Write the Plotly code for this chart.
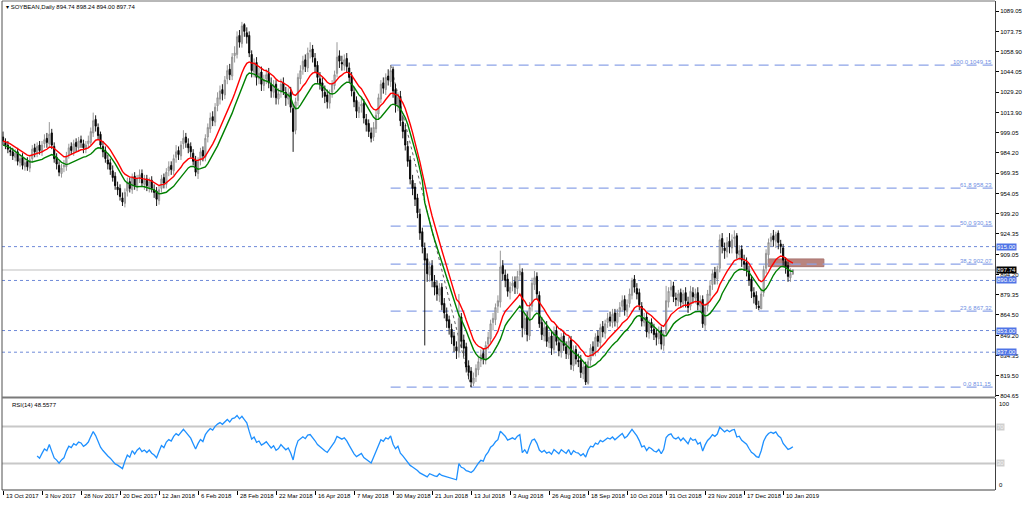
import plotly.graph_objects as go
import pandas as pd

# ---------------- data ----------------
open_ = [
    996, 992, 990, 986, 985, 981, 985, 977, 981, 974,
    978, 973, 980, 988, 984, 990, 985, 991, 995, 991,
    999, 989, 981, 975, 969, 974, 974, 983, 989, 985,
    992, 988, 994, 991, 987, 991, 992, 999, 1009, 1003,
    998, 989, 986, 979, 977, 971, 967, 959, 958, 951,
    947, 956, 963, 957, 967, 959, 966, 969, 961, 965,
    959, 964, 957, 956, 949, 958, 966, 961, 971, 975,
    971, 981, 986, 982, 991, 996, 991, 989, 984, 979,
    969, 979, 986, 981, 996, 1002, 1011, 1007, 1019, 1024,
    1031, 1027, 1039, 1046, 1041, 1056, 1057, 1071, 1065, 1079,
    1073, 1071, 1057, 1044, 1051, 1039, 1044, 1034, 1039, 1043,
    1035, 1029, 1035, 1024, 1029, 1036, 1029, 1024, 1029, 1017,
    1001, 1023, 1039, 1046, 1053, 1047, 1059, 1061, 1054, 1049,
    1039, 1036, 1029, 1027, 1021, 1029, 1034, 1043, 1056, 1051,
    1049, 1054, 1047, 1041, 1029, 1023, 1014, 1019, 1021, 1009,
    1006, 999, 996, 1002, 1013, 1024, 1036, 1031, 1041, 1037,
    1046, 1031, 1019, 1026, 1007, 1001, 989, 979, 964, 959,
    951, 939, 926, 914, 906, 894, 901, 889, 886, 879,
    885, 873, 865, 861, 854, 849, 841, 837, 863, 846,
    841, 827, 823, 814, 819, 824, 831, 836, 831, 843,
    847, 859, 861, 871, 874, 901, 894, 891, 881, 886,
    889, 884, 894, 896, 854, 863, 849, 871, 887, 893,
    879, 859, 849, 856, 844, 849, 839, 853, 844, 837,
    849, 841, 835, 846, 827, 839, 831, 831, 821, 827,
    814, 831, 841, 837, 849, 844, 856, 851, 859, 863,
    859, 866, 859, 867, 871, 876, 867, 873, 879, 891,
    884, 881, 871, 859, 863, 851, 859, 854, 851, 847,
    853, 842, 851, 874, 883, 886, 877, 875, 881, 873,
    881, 874, 871, 881, 877, 881, 871, 876, 857, 871,
    879, 887, 896, 891, 899, 921, 914, 911, 919, 914,
    921, 923, 909, 913, 904, 903, 897, 891, 881, 879,
    871, 869, 881, 899, 909, 919, 923, 919, 925, 917,
    914, 904, 901, 892, 894.74,
]
high = [
    1000, 995, 993, 989, 988, 987, 988, 983, 984, 980,
    981, 982, 990, 991, 992, 993, 993, 998, 999, 1007,
    1002, 992, 984, 978, 976, 979, 985, 991, 992, 994,
    995, 996, 997, 994, 993, 997, 1003, 1014, 1012, 1006,
    1000, 993, 989, 983, 980, 975, 970, 963, 961, 955,
    958, 966, 966, 969, 970, 968, 972, 972, 968, 968,
    966, 967, 961, 959, 960, 968, 969, 973, 978, 978,
    983, 990, 989, 993, 1001, 999, 995, 992, 987, 982,
    981, 988, 989, 998, 1006, 1014, 1015, 1021, 1029, 1034,
    1035, 1041, 1049, 1050, 1058, 1063, 1074, 1075, 1081, 1080,
    1077, 1074, 1060, 1054, 1055, 1047, 1048, 1042, 1046, 1047,
    1040, 1038, 1038, 1032, 1039, 1040, 1033, 1032, 1033, 1020,
    1025, 1043, 1049, 1056, 1057, 1062, 1066, 1064, 1058, 1052,
    1044, 1040, 1034, 1031, 1031, 1038, 1045, 1066, 1060, 1056,
    1057, 1058, 1051, 1044, 1033, 1026, 1022, 1025, 1024, 1013,
    1009, 1003, 1007, 1016, 1028, 1038, 1040, 1043, 1046, 1049.15,
    1048, 1035, 1029, 1030, 1012, 1005, 993, 982, 968, 962,
    954, 943, 929, 918, 910, 904, 905, 894, 890, 888,
    888, 877, 870, 864, 858, 852, 845, 880, 866, 850,
    844, 831, 826, 822, 828, 834, 839, 840, 845, 852,
    861, 866, 873, 879, 912, 905, 898, 895, 889, 893,
    893, 897, 902, 899, 866, 867, 874, 892, 897, 896,
    882, 863, 859, 860, 852, 853, 856, 857, 848, 851,
    853, 845, 848, 849, 842, 842, 836, 835, 829, 830,
    833, 843, 845, 851, 853, 858, 860, 861, 866, 867,
    869, 869, 869, 874, 879, 879, 876, 884, 892, 894,
    888, 884, 874, 866, 866, 861, 862, 858, 854, 856,
    856, 853, 886, 885, 890, 889, 881, 883, 884, 883,
    885, 878, 886, 885, 884, 885, 879, 879, 873, 883,
    890, 898, 900, 901, 924, 925, 918, 922, 925, 924,
    927, 925, 916, 916, 909, 907, 901, 894, 885, 882,
    875, 884, 901, 913, 921, 925, 927.3, 926, 927, 920,
    917, 907, 904, 899, 898.24,
]
low = [
    990, 987, 984, 982, 979, 978, 975, 974, 972, 971,
    971, 970, 977, 981, 981, 983, 982, 988, 988, 988,
    987, 977, 972, 967, 966, 970, 971, 980, 983, 982,
    985, 985, 988, 984, 984, 988, 990, 996, 1000, 994,
    987, 981, 977, 972, 968, 963, 957, 953, 949, 945,
    944, 952, 955, 954, 957, 956, 962, 959, 957, 956,
    955, 955, 951, 945, 946, 955, 958, 958, 967, 968,
    968, 977, 979, 979, 987, 988, 984, 981, 975, 967,
    965, 975, 978, 978, 992, 999, 1004, 1004, 1015, 1020,
    1023, 1024, 1035, 1038, 1038, 1051, 1054, 1062, 1062, 1070,
    1065, 1055, 1040, 1040, 1034, 1035, 1030, 1030, 1035, 1032,
    1025, 1025, 1020, 1020, 1025, 1027, 1019, 1020, 1014, 985,
    998, 1019, 1035, 1042, 1044, 1044, 1054, 1051, 1044, 1036,
    1031, 1025, 1021, 1017, 1017, 1025, 1031, 1040, 1047, 1045,
    1045, 1044, 1036, 1026, 1018, 1010, 1010, 1014, 1006, 1000,
    996, 992, 993, 999, 1009, 1021, 1028, 1027, 1034, 1033,
    1025, 1014, 1015, 1004, 995, 986, 974, 961, 953, 945,
    936, 920, 910, 842, 889, 889, 885, 879, 875, 874,
    868, 862, 855, 850, 843, 837, 832, 833, 840, 834,
    822, 817, 811.15, 812, 815, 820, 826, 828, 828, 839,
    844, 853, 857, 866, 870, 890, 885, 878, 876, 882,
    880, 880, 890, 848, 850, 845, 846, 867, 883, 876,
    855, 846, 845, 841, 840, 835, 836, 842, 834, 833,
    838, 832, 832, 824, 823, 828, 826, 818, 817, 812.8,
    813, 827, 834, 834, 841, 840, 848, 847, 855, 856,
    855, 856, 855, 863, 867, 864, 863, 870, 876, 881,
    876, 868, 856, 856, 848, 847, 851, 846, 842, 843,
    839, 838, 849, 870, 878, 874, 871, 871, 870, 870,
    870, 866, 868, 873, 873, 868, 867, 855, 853, 867,
    875, 883, 887, 887, 896, 910, 906, 907, 910, 910,
    915, 906, 905, 900, 897, 893, 886, 877, 873, 869,
    868, 869, 878, 895, 905, 915, 915, 914, 913, 910,
    901, 895, 889, 889, 894.00,
]
close = [
    993, 990, 987, 985, 982, 984, 978, 980, 975, 977,
    974, 979, 987, 985, 989, 986, 990, 994, 992, 998,
    990, 980, 976, 970, 973, 975, 982, 988, 986, 991,
    989, 993, 992, 988, 990, 993, 1000, 1008, 1004, 997,
    990, 985, 980, 976, 972, 966, 960, 957, 952, 948,
    955, 962, 958, 966, 960, 965, 968, 962, 964, 960,
    963, 958, 955, 950, 957, 965, 962, 970, 974, 972,
    980, 985, 983, 990, 995, 992, 988, 985, 978, 970,
    978, 985, 982, 995, 1003, 1010, 1008, 1018, 1025, 1030,
    1028, 1038, 1045, 1042, 1055, 1058, 1070, 1066, 1078, 1074,
    1070, 1058, 1045, 1050, 1040, 1043, 1035, 1038, 1042, 1036,
    1030, 1034, 1025, 1028, 1035, 1030, 1025, 1028, 1018, 1000,
    1022, 1040, 1045, 1052, 1048, 1058, 1060, 1055, 1048, 1040,
    1035, 1030, 1026, 1022, 1028, 1035, 1042, 1055, 1052, 1050,
    1053, 1048, 1040, 1030, 1022, 1015, 1018, 1020, 1010, 1005,
    1000, 995, 1003, 1012, 1025, 1035, 1032, 1040, 1038, 1045,
    1030, 1020, 1025, 1008, 1000, 990, 978, 965, 958, 950,
    940, 925, 915, 905, 895, 900, 890, 885, 880, 884,
    872, 866, 860, 855, 848, 842, 838, 862, 845, 840,
    826, 822, 815, 818, 825, 830, 835, 832, 842, 848,
    858, 862, 870, 875, 900, 895, 890, 882, 885, 888,
    885, 893, 897, 855, 862, 850, 870, 888, 892, 880,
    858, 850, 855, 845, 848, 840, 852, 845, 838, 848,
    842, 836, 845, 828, 838, 832, 830, 822, 826, 815,
    830, 840, 838, 848, 845, 855, 852, 858, 862, 860,
    865, 860, 866, 870, 875, 868, 872, 880, 890, 885,
    880, 872, 860, 862, 852, 858, 855, 850, 848, 852,
    843, 850, 875, 882, 885, 878, 876, 880, 874, 880,
    875, 870, 882, 878, 880, 872, 875, 858, 870, 880,
    886, 895, 892, 898, 920, 915, 912, 918, 915, 920,
    922, 910, 912, 905, 902, 898, 890, 882, 878, 872,
    870, 880, 898, 910, 918, 922, 920, 924, 918, 915,
    905, 900, 893, 895, 897.74,
]

tick_labels = ["13 Oct 2017", "3 Nov 2017", "28 Nov 2017", "20 Dec 2017", "12 Jan 2018",
               "6 Feb 2018", "28 Feb 2018", "22 Mar 2018", "16 Apr 2018", "7 May 2018",
               "30 May 2018", "21 Jun 2018", "13 Jul 2018", "3 Aug 2018", "26 Aug 2018",
               "18 Sep 2018", "10 Oct 2018", "31 Oct 2018", "23 Nov 2018", "17 Dec 2018",
               "10 Jan 2019"]
tick_bars = [0, 16, 32, 48, 64, 80, 96, 112, 128, 144, 160, 176, 192, 208, 224,
             240, 256, 272, 288, 304, 320]

price_ticks = [804.65, 819.50, 834.35, 849.20, 864.50, 879.35, 894.20, 909.05, 924.35,
               939.20, 954.05, 969.35, 984.20, 999.05, 1013.90, 1029.20, 1044.05,
               1058.90, 1073.75, 1089.05]

fib_pcts = [100.0, 61.8, 50.0, 38.2, 23.6, 0.0]
fib_prices = [1049.15, 958.23, 930.15, 902.07, 867.32, 811.15]
fib_bar_high = 159
fib_bar_low = 192

level_prices = [915.00, 890.00, 853.00, 837.00]
last_price = 897.74
zone_bars = [313.9, 336.7]
zone_prices = [900.2, 905.9]
rsi_levels = [70, 30]
title_text = "SOYBEAN,Daily 894.74 898.24 894.00 897.74"
rsi_text = "RSI(14) 48.5577"

# ---------------- indicators ----------------
n = len(close)
bars = list(range(n))
s_close = pd.Series(close, dtype=float)
s_low = pd.Series(low, dtype=float)
ma_red = s_close.ewm(span=14, adjust=False).mean()
ma_green = s_low.ewm(span=14, adjust=False).mean()
delta = s_close.diff()
gain = delta.clip(lower=0)
loss = -delta.clip(upper=0)
avg_g = gain.ewm(alpha=1 / 14, adjust=False, min_periods=14).mean()
avg_l = loss.ewm(alpha=1 / 14, adjust=False, min_periods=14).mean()
rsi = 100 - 100 / (1 + avg_g / avg_l)

# ---------------- figure ----------------
FONT = "Liberation Sans"
x_range = [-0.41, 406.9]
price_range = [803.91, 1096.45]
rsi_range = [1.35, 100.8]
price_dom = [0.1902, 1.0]
rsi_dom = [0.0, 0.1881]

fig = go.Figure()
fig.add_trace(go.Candlestick(
    x=bars, open=open_, high=high, low=low, close=close,
    increasing=dict(line=dict(color="#8c8c8c", width=0.9), fillcolor="#c8c8c8"),
    decreasing=dict(line=dict(color="#000000", width=0.9), fillcolor="#000000"),
    whiskerwidth=0, showlegend=False, xaxis="x", yaxis="y"))
fig.add_trace(go.Scatter(x=bars, y=ma_red, mode="lines", line=dict(color="#ff0000", width=1.4),
                         showlegend=False, xaxis="x", yaxis="y"))
fig.add_trace(go.Scatter(x=bars, y=ma_green, mode="lines", line=dict(color="#008000", width=1.4),
                         showlegend=False, xaxis="x", yaxis="y"))
fig.add_trace(go.Scatter(x=bars, y=rsi, mode="lines", line=dict(color="#1e90ff", width=1.3),
                         showlegend=False, xaxis="x2", yaxis="y2"))

shapes = []
shapes.append(dict(type="rect", xref="x", yref="y", x0=zone_bars[0], x1=zone_bars[1],
                   y0=zone_prices[0], y1=zone_prices[1], fillcolor="#b9857f",
                   line=dict(color="#a87570", width=1), layer="below"))
shapes.append(dict(type="line", xref="paper", yref="y", x0=0, x1=1, y0=last_price, y1=last_price,
                   line=dict(color="#d4d4d4", width=1.5), layer="below"))
for p in level_prices:
    shapes.append(dict(type="line", xref="paper", yref="y", x0=0, x1=1, y0=p, y1=p,
                       line=dict(color="#6f8ad8", width=1, dash="dot"), layer="below"))
for p in fib_prices:
    shapes.append(dict(type="line", xref="x", yref="y", x0=fib_bar_high, x1=x_range[1], y0=p, y1=p,
                       line=dict(color="#8ca3e8", width=1.2, dash="10px,6px"), layer="below"))
shapes.append(dict(type="line", xref="x", yref="y", x0=fib_bar_high, x1=fib_bar_low,
                   y0=fib_prices[0], y1=fib_prices[-1],
                   line=dict(color="#606060", width=1, dash="dot"), layer="below"))
for lv in rsi_levels:
    shapes.append(dict(type="line", xref="paper", yref="y2", x0=0, x1=1, y0=lv, y1=lv,
                       line=dict(color="#c8c8c8", width=2), layer="below"))
shapes.append(dict(type="line", xref="paper", yref="paper", x0=0, x1=1, y0=1, y1=1,
                   line=dict(color="#707070", width=1)))
shapes.append(dict(type="line", xref="paper", yref="paper", x0=0, x1=0, y0=0, y1=1,
                   line=dict(color="#505050", width=1)))
shapes.append(dict(type="line", xref="paper", yref="paper", x0=0, x1=1, y0=0.1892, y1=0.1892,
                   line=dict(color="#7a7a7a", width=2.2)))
shapes.append(dict(type="line", xref="paper", yref="paper", x0=0, x1=1, y0=0, y1=0,
                   line=dict(color="#404040", width=1)))

ann = []
ann.append(dict(xref="paper", yref="paper", x=0.002, y=1, xanchor="left", yanchor="top", yshift=-1,
                text="▾ " + title_text, showarrow=False, font=dict(family=FONT, size=6, color="#000")))
ann.append(dict(xref="paper", yref="y2", x=0.008, y=rsi_range[1], xanchor="left", yanchor="top",
                yshift=-2, text=rsi_text, showarrow=False, font=dict(family=FONT, size=6, color="#000")))
for lab, b in zip(tick_labels, tick_bars):
    ann.append(dict(xref="x2", yref="paper", x=b, y=0, xanchor="left", yanchor="top", xshift=1, yshift=-1,
                    text=lab, showarrow=False, font=dict(family=FONT, size=6, color="#000")))
for pct, p in zip(fib_pcts, fib_prices):
    ann.append(dict(xref="paper", yref="y", x=1, y=p, xanchor="right", yanchor="bottom", xshift=-1, yshift=-2,
                    text=f"{pct:.1f} {p:.2f}", showarrow=False,
                    font=dict(family=FONT, size=6, color="#6f8fe3")))
for p in level_prices:
    ann.append(dict(xref="paper", yref="y", x=1, y=p, xanchor="left", yanchor="middle", xshift=1,
                    text=f"{p:.2f}", showarrow=False, bgcolor="#4f74e6", borderpad=0,
                    font=dict(family=FONT, size=6, color="#ffffff")))
ann.append(dict(xref="paper", yref="y", x=1, y=last_price, xanchor="left", yanchor="middle", xshift=1,
                text=f"{last_price:.2f}", showarrow=False, bgcolor="#000000", borderpad=0,
                font=dict(family=FONT, size=6, color="#ffffff")))
ann.append(dict(xref="paper", yref="y2", x=1, y=rsi_range[1], xanchor="left", yanchor="top", xshift=2,
                yshift=-1, text="100", showarrow=False, font=dict(family=FONT, size=6, color="#000")))
ann.append(dict(xref="paper", yref="y2", x=1, y=rsi_range[0], xanchor="left", yanchor="bottom", xshift=2,
                text="0", showarrow=False, font=dict(family=FONT, size=6, color="#000")))
for lv in rsi_levels:
    ann.append(dict(xref="paper", yref="y2", x=1, y=lv, xanchor="left", yanchor="middle", xshift=1,
                    text=str(lv), showarrow=False, bgcolor="#cfcfcf", borderpad=0,
                    font=dict(family=FONT, size=6, color="#f4f4f4")))

fig.update_layout(
    width=1024, height=505,
    margin=dict(l=2, r=24, t=1, b=15),
    paper_bgcolor="#ffffff", plot_bgcolor="#ffffff",
    showlegend=False, hovermode=False,
    shapes=shapes, annotations=ann,
    xaxis=dict(domain=[0, 1], range=x_range, anchor="y", showticklabels=False, showgrid=False,
               zeroline=False, showline=False, rangeslider=dict(visible=False), fixedrange=True),
    xaxis2=dict(domain=[0, 1], range=x_range, anchor="y2", matches="x", showgrid=False, zeroline=False,
                showline=False, tickmode="array", tickvals=tick_bars, showticklabels=False,
                ticks="outside", ticklen=4, tickcolor="#000", tickwidth=1),
    yaxis=dict(domain=price_dom, range=price_range, side="right", anchor="x", showgrid=False,
               zeroline=False, showline=True, linecolor="#404040", linewidth=1, mirror=False,
               tickmode="array", tickvals=price_ticks, ticktext=[f"{t:.2f}" for t in price_ticks],
               ticks="outside", ticklen=3, tickcolor="#000",
               tickfont=dict(family=FONT, size=6, color="#000")),
    yaxis2=dict(domain=rsi_dom, range=rsi_range, side="right", anchor="x2", showgrid=False,
                zeroline=False, showline=True, linecolor="#404040", linewidth=1,
                tickmode="array", tickvals=[], showticklabels=False),
)

fig.write_html("out.html", config={"displayModeBar": False},
               post_script="document.body.style.margin='0';document.body.style.overflow='hidden';")
